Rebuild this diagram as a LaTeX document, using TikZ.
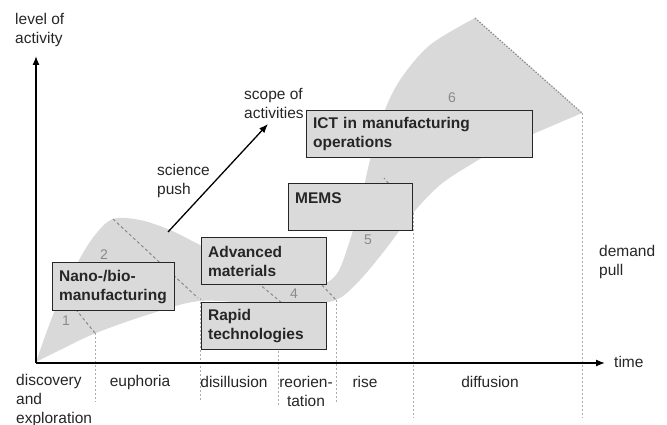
\documentclass[tikz,border=0pt]{standalone}
\usepackage{fontspec}
\setmainfont{Liberation Sans}
\usetikzlibrary{arrows.meta}
\definecolor{bandgray}{HTML}{D9D9D9}
\definecolor{boxgray}{HTML}{DADADA}
\definecolor{numgray}{HTML}{8A8A8A}
\definecolor{linegray}{HTML}{ABABAB}
\definecolor{txt}{HTML}{262626}
\begin{document}
\begin{tikzpicture}[x=1pt,y=-1pt,
  stagebox/.style={draw=black!85, line width=1.2pt, fill=boxgray, align=left,
    inner xsep=6.5pt, inner ysep=0pt, font=\fontsize{15.5}{19}\selectfont\bfseries,
    text=txt, anchor=north west},
  lbl/.style={font=\fontsize{15.5}{19}\selectfont, text=txt, inner sep=0pt},
  num/.style={font=\fontsize{14}{16}\selectfont, text=numgray, inner sep=0pt},
  vline/.style={linegray, line width=0.9pt, dash pattern=on 2pt off 2pt},
  sepline/.style={numgray, line width=1pt, dash pattern=on 3pt off 2.5pt},
  axis/.style={line width=1.3pt, -{Latex[length=9pt,width=7pt]}},
]
\useasboundingbox (0,0) rectangle (667,425);

% band
\fill[bandgray] plot[smooth, tension=0.55] coordinates {(36,362) (55,310) (78,262) (95,235) (113,219) (140,220) (170,230) (200,245) (250,270) (290,283) (322,284) (338,272) (350,240) (360,205) (370,160) (383,115) (400,80) (430,45) (475,18)}
  -- plot[smooth, tension=0.55] coordinates {(582,113) (540,131) (500,148) (470,165) (440,185) (413,213) (385,250) (360,280) (338,299) (310,304) (260,304) (200,301) (150,314) (96,333) (60,350) (36,362)} -- cycle;

\coordinate (t6a) at (475,18);
\coordinate (t6b) at (582,113);
\draw[numgray, line width=1.2pt, dash pattern=on 1.5pt off 1.5pt] (t6a) -- (t6b);

% stage separators
\coordinate (s1a) at (95,333);  \coordinate (s1b) at (60,290);
\coordinate (s2a) at (113,219); \coordinate (s2b) at (198,298);
\coordinate (s3a) at (258,283); \coordinate (s3b) at (282,303);
\coordinate (s4a) at (322,285); \coordinate (s4b) at (337,301);
\coordinate (s5a) at (413,213); \coordinate (s5b) at (384,178);
\draw[sepline] (s1a) -- (s1b);
\draw[sepline] (s2a) -- (s2b);
\draw[sepline] (s3a) -- (s3b);
\draw[sepline] (s4a) -- (s4b);
\draw[sepline] (s5a) -- (s5b);

% vertical phase lines
\coordinate (v1a) at (95,333);  \coordinate (v1b) at (95,402);
\coordinate (v2a) at (200,298); \coordinate (v2b) at (200,402);
\coordinate (v3a) at (278,303); \coordinate (v3b) at (278,405);
\coordinate (v4a) at (336,300); \coordinate (v4b) at (336,402);
\coordinate (v5a) at (413,213); \coordinate (v5b) at (413,418);
\coordinate (v6a) at (582,113); \coordinate (v6b) at (582,418);
\draw[vline] (v1a) -- (v1b);
\draw[vline] (v2a) -- (v2b);
\draw[vline] (v3a) -- (v3b);
\draw[vline] (v4a) -- (v4b);
\draw[vline] (v5a) -- (v5b);
\draw[vline] (v6a) -- (v6b);

% stage numbers
\node[num] (n1) at (66,321) {1};
\node[num] (n2) at (104,255) {2};
\node[num] (n4) at (294,294) {4};
\node[num] (n5) at (368,240) {5};
\node[num] (n6) at (452,98) {6};

% axes
\coordinate (O) at (36,363);
\coordinate (ytip) at (36,56);
\coordinate (xtip) at (605,363);
\draw[axis] (O) -- (ytip);
\draw[axis] (O) -- (xtip);

% science push arrow
\coordinate (sp1) at (168,232);
\coordinate (sp2) at (268,124);
\draw[axis] (sp1) -- (sp2);

% boxes
\node[stagebox, text width=109pt, minimum height=48pt] (nano) at (52,262) {Nano-/bio-\\manufacturing};
\node[stagebox, text width=112pt, minimum height=47pt] (adv) at (201,237) {Advanced\\materials};
\node[stagebox, text width=112pt, minimum height=47pt] (rapid) at (201,302) {Rapid\\technologies};
\node[stagebox, text width=111pt, minimum height=47pt] (mems) at (288,183) {MEMS\\\mbox{}};
\node[stagebox, text width=213pt, minimum height=47pt] (ict) at (306,110) {ICT in manufacturing\\operations};

% labels
\node[lbl, anchor=west, align=left] (lvl) at (15,30) {level of\\activity};
\node[lbl, anchor=west] (time) at (614,362) {time};
\node[lbl, anchor=west, align=left] (sci) at (157,181) {science\\push};
\node[lbl, anchor=west, align=left] (scope) at (244,103) {scope of\\activities};
\node[lbl, anchor=west, align=left] (dem) at (599,262) {demand\\pull};
\node[lbl, anchor=west, align=left] (disc) at (16,400) {discovery\\and\\exploration};
\node[lbl] (eup) at (140,382) {euphoria};
\node[lbl] (dis) at (234,382) {disillusion};
\node[lbl, align=center] (reo) at (306,391) {reorien-\\tation};
\node[lbl] (rise) at (365,382) {rise};
\node[lbl] (diff) at (490,382) {diffusion};
\end{tikzpicture}
\end{document}
